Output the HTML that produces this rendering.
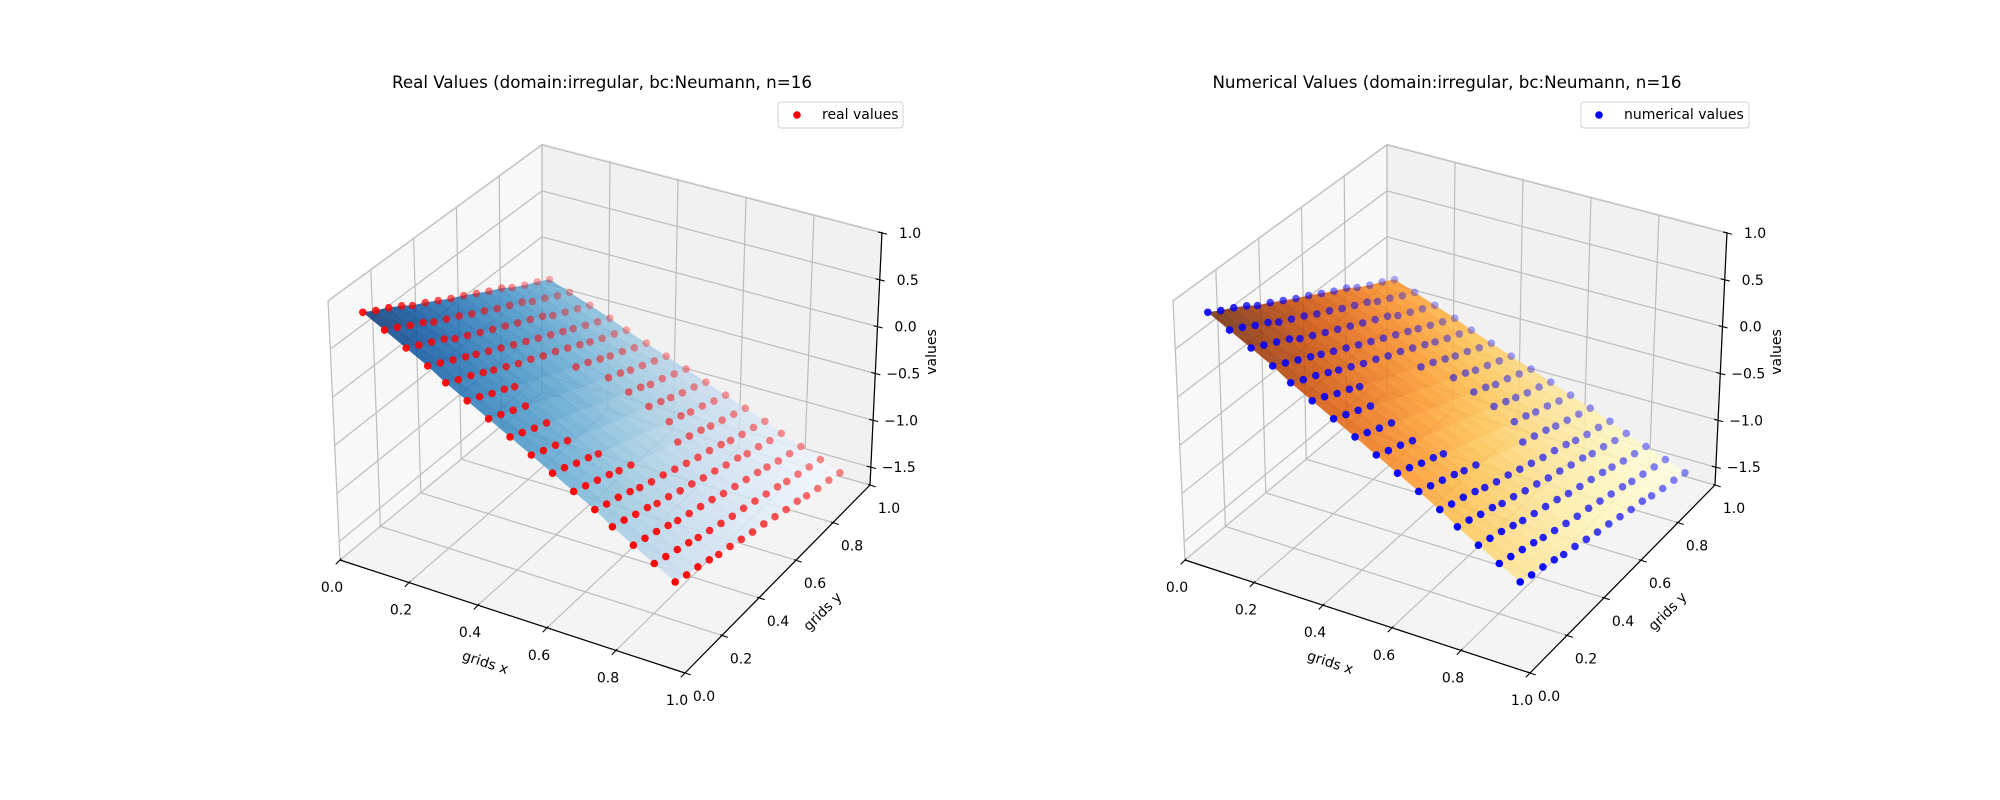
<!DOCTYPE html>
<html><head><meta charset="utf-8"><title>Real vs Numerical Values</title>
<style>
html,body{margin:0;padding:0;background:#fff;}
svg{display:block;font-family:"DejaVu Sans","Liberation Sans",sans-serif;}
</style></head>
<body>
<svg id="fig" xmlns="http://www.w3.org/2000/svg" width="2000" height="800" viewBox="0 0 2000 800"></svg>
<script>
const gridX = [0.06,0.12,0.18,0.24,0.29,0.35,0.41,0.47,0.53,0.59,0.65,0.71,0.76,0.82,0.88,0.94];
const gridY = [0.06,0.12,0.18,0.24,0.29,0.35,0.41,0.47,0.53,0.59,0.65,0.71,0.76,0.82,0.88,0.94];
const realValues = [
[0.85,0.77,0.70,0.62,0.54,0.47,0.39,0.31,0.24,0.16,0.08,0.01,-0.07,-0.15,-0.22,-0.30],
[0.73,0.66,0.58,0.51,0.43,0.36,0.29,0.21,0.14,0.06,-0.01,-0.08,-0.16,-0.23,-0.31,-0.38],
[0.61,0.54,0.47,0.40,0.32,0.25,0.18,0.11,0.04,-0.03,-0.10,-0.17,-0.25,-0.32,-0.39,-0.46],
[0.49,0.42,0.35,0.28,0.22,0.15,0.08,0.01,-0.06,-0.13,-0.20,-0.27,-0.33,-0.40,-0.47,-0.54],
[0.37,0.30,0.24,0.17,0.11,0.04,-0.03,-0.09,-0.16,-0.22,-0.29,-0.36,-0.42,-0.49,-0.55,-0.62],
[0.25,0.19,0.12,0.06,0.00,null,null,null,null,-0.32,-0.38,-0.45,-0.51,-0.57,-0.64,-0.70],
[0.13,0.07,0.01,-0.05,null,null,null,null,null,null,-0.48,-0.54,-0.60,-0.66,-0.72,-0.78],
[0.01,-0.05,-0.11,-0.16,null,null,null,null,null,null,-0.57,-0.63,-0.69,-0.74,-0.80,-0.86],
[-0.11,-0.17,-0.22,-0.28,null,null,null,null,null,null,-0.66,-0.72,-0.77,-0.83,-0.88,-0.94],
[-0.23,-0.28,-0.34,-0.39,-0.44,null,null,null,null,null,-0.76,-0.81,-0.86,-0.91,-0.97,-1.02],
[-0.35,-0.40,-0.45,-0.50,-0.55,-0.60,null,null,null,-0.80,-0.85,-0.90,-0.95,-1.00,-1.05,-1.10],
[-0.47,-0.52,-0.56,-0.61,-0.66,-0.71,-0.75,-0.80,-0.85,-0.90,-0.94,-0.99,-1.04,-1.09,-1.13,-1.18],
[-0.59,-0.63,-0.68,-0.72,-0.77,-0.81,-0.86,-0.90,-0.95,-0.99,-1.04,-1.08,-1.13,-1.17,-1.22,-1.26],
[-0.71,-0.75,-0.79,-0.84,-0.88,-0.92,-0.96,-1.00,-1.05,-1.09,-1.13,-1.17,-1.21,-1.26,-1.30,-1.34],
[-0.83,-0.87,-0.91,-0.95,-0.99,-1.03,-1.07,-1.11,-1.14,-1.18,-1.22,-1.26,-1.30,-1.34,-1.38,-1.42],
[-0.95,-0.99,-1.02,-1.06,-1.10,-1.13,-1.17,-1.21,-1.24,-1.28,-1.32,-1.35,-1.39,-1.43,-1.46,-1.50]
];
const numericalValues = [
[0.85,0.77,0.70,0.62,0.54,0.47,0.39,0.31,0.24,0.16,0.08,0.01,-0.07,-0.15,-0.22,-0.30],
[0.73,0.66,0.58,0.51,0.43,0.36,0.29,0.21,0.14,0.06,-0.01,-0.08,-0.16,-0.23,-0.31,-0.38],
[0.61,0.54,0.47,0.40,0.32,0.25,0.18,0.11,0.04,-0.03,-0.10,-0.17,-0.25,-0.32,-0.39,-0.46],
[0.49,0.42,0.35,0.28,0.22,0.15,0.08,0.01,-0.06,-0.13,-0.20,-0.27,-0.33,-0.40,-0.47,-0.54],
[0.37,0.30,0.24,0.17,0.11,0.04,-0.03,-0.09,-0.16,-0.22,-0.29,-0.36,-0.42,-0.49,-0.55,-0.62],
[0.25,0.19,0.12,0.06,0.00,null,null,null,null,-0.32,-0.38,-0.45,-0.51,-0.57,-0.64,-0.70],
[0.13,0.07,0.01,-0.05,null,null,null,null,null,null,-0.48,-0.54,-0.60,-0.66,-0.72,-0.78],
[0.01,-0.05,-0.11,-0.16,null,null,null,null,null,null,-0.57,-0.63,-0.69,-0.74,-0.80,-0.86],
[-0.11,-0.17,-0.22,-0.28,null,null,null,null,null,null,-0.66,-0.72,-0.77,-0.83,-0.88,-0.94],
[-0.23,-0.28,-0.34,-0.39,-0.44,null,null,null,null,null,-0.76,-0.81,-0.86,-0.91,-0.97,-1.02],
[-0.35,-0.40,-0.45,-0.50,-0.55,-0.60,null,null,null,-0.80,-0.85,-0.90,-0.95,-1.00,-1.05,-1.10],
[-0.47,-0.52,-0.56,-0.61,-0.66,-0.71,-0.75,-0.80,-0.85,-0.90,-0.94,-0.99,-1.04,-1.09,-1.13,-1.18],
[-0.59,-0.63,-0.68,-0.72,-0.77,-0.81,-0.86,-0.90,-0.95,-0.99,-1.04,-1.08,-1.13,-1.17,-1.22,-1.26],
[-0.71,-0.75,-0.79,-0.84,-0.88,-0.92,-0.96,-1.00,-1.05,-1.09,-1.13,-1.17,-1.21,-1.26,-1.30,-1.34],
[-0.83,-0.87,-0.91,-0.95,-0.99,-1.03,-1.07,-1.11,-1.14,-1.18,-1.22,-1.26,-1.30,-1.34,-1.38,-1.42],
[-0.95,-0.99,-1.02,-1.06,-1.10,-1.13,-1.17,-1.21,-1.24,-1.28,-1.32,-1.35,-1.39,-1.43,-1.46,-1.50]
];
const xTicks = [0,0.2,0.4,0.6,0.8,1.0];
const xTickLabels = ["0.0","0.2","0.4","0.6","0.8","1.0"];
const yTicks = [0,0.2,0.4,0.6,0.8,1.0];
const yTickLabels = ["0.0","0.2","0.4","0.6","0.8","1.0"];
const zTicks = [-1.5,-1.0,-0.5,0.0,0.5,1.0];
const zTickLabels = ["\u22121.5","\u22121.0","\u22120.5","0.0","0.5","1.0"];

const NS = "http://www.w3.org/2000/svg";
const svg = document.getElementById("fig");
const ZMIN = -1.69, ZMAX = 1.01;
const CORN = {A0:[340,560],A1:[328,300],B0:[685,673],B1:[684,405],C0:[870,485],C1:[882,232],D0:[542,392],D1:[542,144]};
const BLUES = ["#f7fbff","#deebf7","#c6dbef","#9ecae1","#6baed6","#4292c6","#2171b5","#08519c","#08306b"];
const YLORBR = ["#ffffe5","#fff7bc","#fee391","#fec44f","#fe9929","#ec7014","#cc4c02","#993404","#662506"];

function el(tag, attrs, parent){const e=document.createElementNS(NS,tag);for(const k in attrs)e.setAttribute(k,attrs[k]);(parent||svg).appendChild(e);return e;}
function bil(p00,p10,p11,p01,x,y){return [p00[0]*(1-x)*(1-y)+p10[0]*x*(1-y)+p11[0]*x*y+p01[0]*(1-x)*y, p00[1]*(1-x)*(1-y)+p10[1]*x*(1-y)+p11[1]*x*y+p01[1]*(1-x)*y];}
function tOf(z){return (z-ZMIN)/(ZMAX-ZMIN);}
function proj(x,y,z,dx){const t=tOf(z);const b=bil(CORN.A0,CORN.B0,CORN.C0,CORN.D0,x,y);const p=bil(CORN.A1,CORN.B1,CORN.C1,CORN.D1,x,y);return [b[0]+t*(p[0]-b[0])+dx, b[1]+t*(p[1]-b[1])];}
function depth(x,y,z){return 1.732*x-3*y+1.5*tOf(z);}
function hex2rgb(h){return [parseInt(h.substr(1,2),16),parseInt(h.substr(3,2),16),parseInt(h.substr(5,2),16)];}
function cmap(stops,v){v=Math.max(0,Math.min(1,v));const n=stops.length-1;const k=Math.min(n-1,Math.floor(v*n));const f=v*n-k;const a=hex2rgb(stops[k]),b=hex2rgb(stops[k+1]);return "rgb("+[0,1,2].map(i=>Math.round(a[i]+(b[i]-a[i])*f)).join(",")+")";}
function pts(arr){return arr.map(p=>p[0].toFixed(1)+","+p[1].toFixed(1)).join(" ");}

function filledRow(row){
  const out=row.slice();
  for(let j=0;j<out.length;j++){
    if(out[j]===null){
      let l=j-1;while(l>=0&&row[l]===null)l--;
      let r=j+1;while(r<row.length&&row[r]===null)r++;
      if(l<0)out[j]=row[r];else if(r>=row.length)out[j]=row[l];
      else out[j]=row[l]+(row[r]-row[l])*(j-l)/(r-l);
    }
  }
  return out;
}

function makePlot(dx, vals, stops, dotColor, titleText, key){
  const g = el("g",{});
  
  
  const P=(x,y,z)=>proj(x,y,z,dx);
  const floor = el("polygon",{points:pts([P(0,0,ZMIN),P(1,0,ZMIN),P(1,1,ZMIN),P(0,1,ZMIN)]),fill:"#f4f4f4",stroke:"#ececec","stroke-width":1},g);
  
  
  const left = el("polygon",{points:pts([P(0,0,ZMIN),P(0,1,ZMIN),P(0,1,ZMAX),P(0,0,ZMAX)]),fill:"#f8f8f8",stroke:"#ececec","stroke-width":1},g);
  
  
  const back = el("polygon",{points:pts([P(0,1,ZMIN),P(1,1,ZMIN),P(1,1,ZMAX),P(0,1,ZMAX)]),fill:"#f1f1f1",stroke:"#e4e4e4","stroke-width":1},g);
  
  
  const grid = el("g",{stroke:"#bdbdbd","stroke-width":1.2,fill:"none"},g);
  
  
  function line(a,b,parent,attrs){const l=el("line",Object.assign({x1:a[0],y1:a[1],x2:b[0],y2:b[1]},attrs||{}),parent);return l;}
  xTicks.forEach(v=>{const a=line(P(v,0,ZMIN),P(v,1,ZMIN),grid);
    const b=line(P(v,1,ZMIN),P(v,1,ZMAX),grid);});
  yTicks.forEach(v=>{const a=line(P(0,v,ZMIN),P(1,v,ZMIN),grid);
    const b=line(P(0,v,ZMIN),P(0,v,ZMAX),grid);});
  zTicks.forEach(v=>{const a=line(P(0,0,v),P(0,1,v),grid);
    const b=line(P(0,1,v),P(1,1,v),grid);});
  const ax=line(P(0,0,ZMIN),P(1,0,ZMIN),g,{stroke:"#000","stroke-width":1.2});
  
  
  const ay=line(P(1,0,ZMIN),P(1,1,ZMIN),g,{stroke:"#000","stroke-width":1.2});
  
  
  const az=line(P(1,1,ZMIN),P(1,1,ZMAX),g,{stroke:"#000","stroke-width":1.2});
  
  
  const tickG = el("g",{stroke:"#000","stroke-width":1.1},g);
  
  
  const lab = el("g",{"font-size":"14px",fill:"#000","text-anchor":"middle"},g);
  
  
  function txt(p,s,parent){const t=el("text",{x:p[0].toFixed(1),y:p[1].toFixed(1),"dominant-baseline":"central"},parent);t.textContent=s;return t;}
  xTicks.forEach((v,i)=>{const p=P(v,0,ZMIN);const tk=line([p[0]+1.4,p[1]-1.4],[p[0]-4.2,p[1]+4.3],tickG);
    const t=txt([p[0]-8,p[1]+28],xTickLabels[i],lab);});
  yTicks.forEach((v,i)=>{const p=P(1,v,ZMIN);const tk=line([p[0]-1.9,p[1]-0.6],[p[0]+5.7,p[1]+1.9],tickG);
    const t=txt([p[0]+19,p[1]+24],yTickLabels[i],lab);});
  zTicks.forEach((v,i)=>{const p=P(1,1,v);const tk=line([p[0]-4,p[1]-1],[p[0]+5,p[1]+1.3],tickG);
    const t=txt([p[0]+28,p[1]+1],zTickLabels[i],lab);});
  const xl=el("text",{x:485+dx,y:663,"font-size":"14px","text-anchor":"middle","dominant-baseline":"central",transform:"rotate(18 "+(485+dx)+" 663)"},g);
  xl.textContent="grids x";
  
  
  const yl=el("text",{x:823+dx,y:612,"font-size":"14px","text-anchor":"middle","dominant-baseline":"central",transform:"rotate(-45 "+(823+dx)+" 612)"},g);
  yl.textContent="grids y";
  
  
  const zl=el("text",{x:932+dx,y:352,"font-size":"14px","text-anchor":"middle","dominant-baseline":"central",transform:"rotate(-90 "+(932+dx)+" 352)"},g);
  zl.textContent="values";
  
  

  let vmin=Infinity,vmax=-Infinity;
  vals.forEach(r=>r.forEach(v=>{if(v!==null){vmin=Math.min(vmin,v);vmax=Math.max(vmax,v);}}));
  const F = vals.map(filledRow);
  const tris=[];
  for(let i=0;i<gridX.length-1;i++){
    for(let j=0;j<gridY.length-1;j++){
      const c=[[i,j],[i+1,j],[i+1,j+1],[i,j+1]].map(q=>[gridX[q[0]],gridY[q[1]],F[q[0]][q[1]]]);
      [[c[0],c[1],c[2]],[c[0],c[2],c[3]]].forEach(tr=>{
        const mz=(tr[0][2]+tr[1][2]+tr[2][2])/3;
        const d=(depth(...tr[0])+depth(...tr[1])+depth(...tr[2]))/3;
        tris.push({tr,mz,d});
      });
    }
  }
  tris.sort((a,b)=>a.d-b.d);
  const surf=el("g",{opacity:0.85},g);
  
  
  tris.forEach(o=>{
    const col=cmap(stops,(o.mz-vmin)/(vmax-vmin));
    const poly=el("polygon",{points:pts(o.tr.map(p=>P(p[0],p[1],p[2]))),fill:col,stroke:col,"stroke-width":0.4,"stroke-opacity":0.6},surf);
    
    
  });

  const pl=[];
  vals.forEach((r,i)=>r.forEach((v,j)=>{if(v!==null){pl.push({x:gridX[i],y:gridY[j],z:v,d:depth(gridX[i],gridY[j],v)});}}));
  let dmin=Infinity,dmax=-Infinity;pl.forEach(p=>{dmin=Math.min(dmin,p.d);dmax=Math.max(dmax,p.d);});
  pl.sort((a,b)=>a.d-b.d);
  const sc=el("g",{},g);
  
  
  pl.forEach(p=>{
    const s=P(p.x,p.y,p.z);
    const a=1-0.7*(dmax-p.d)/(dmax-dmin);
    const c=el("circle",{cx:s[0].toFixed(1),cy:s[1].toFixed(1),r:3.8,fill:dotColor,"fill-opacity":a.toFixed(3)},sc);
    
    
  });

  const tt=el("text",{x:602+dx,y:82,"font-size":"16.7px","text-anchor":"middle","dominant-baseline":"central"},g);
  tt.textContent=titleText;
  
  
  return g;
}

makePlot(0, realValues, BLUES, "#ff0000", "Real Values (domain:irregular, bc:Neumann, n=16", "real");
makePlot(845, numericalValues, YLORBR, "#0000ff", "Numerical Values (domain:irregular, bc:Neumann, n=16", "numerical");

function legend(x0,x1,mx,tx,color,label,key){
  const g=el("g",{});
  
  
  const r=el("rect",{x:x0,y:102,width:x1-x0,height:26,rx:3,fill:"#fff","fill-opacity":0.8,stroke:"#d0d0d0","stroke-width":1},g);
  
  
  const c=el("circle",{cx:mx,cy:115,r:3.8,fill:color},g);
  
  
  const t=el("text",{x:tx,y:115,"font-size":"14px","dominant-baseline":"central"},g);
  t.textContent=label;
  
  
}
legend(778,903,797,822,"#ff0000","real values","real");
legend(1581,1749,1599,1624,"#0000ff","numerical values","numerical");
</script>
</body></html>
